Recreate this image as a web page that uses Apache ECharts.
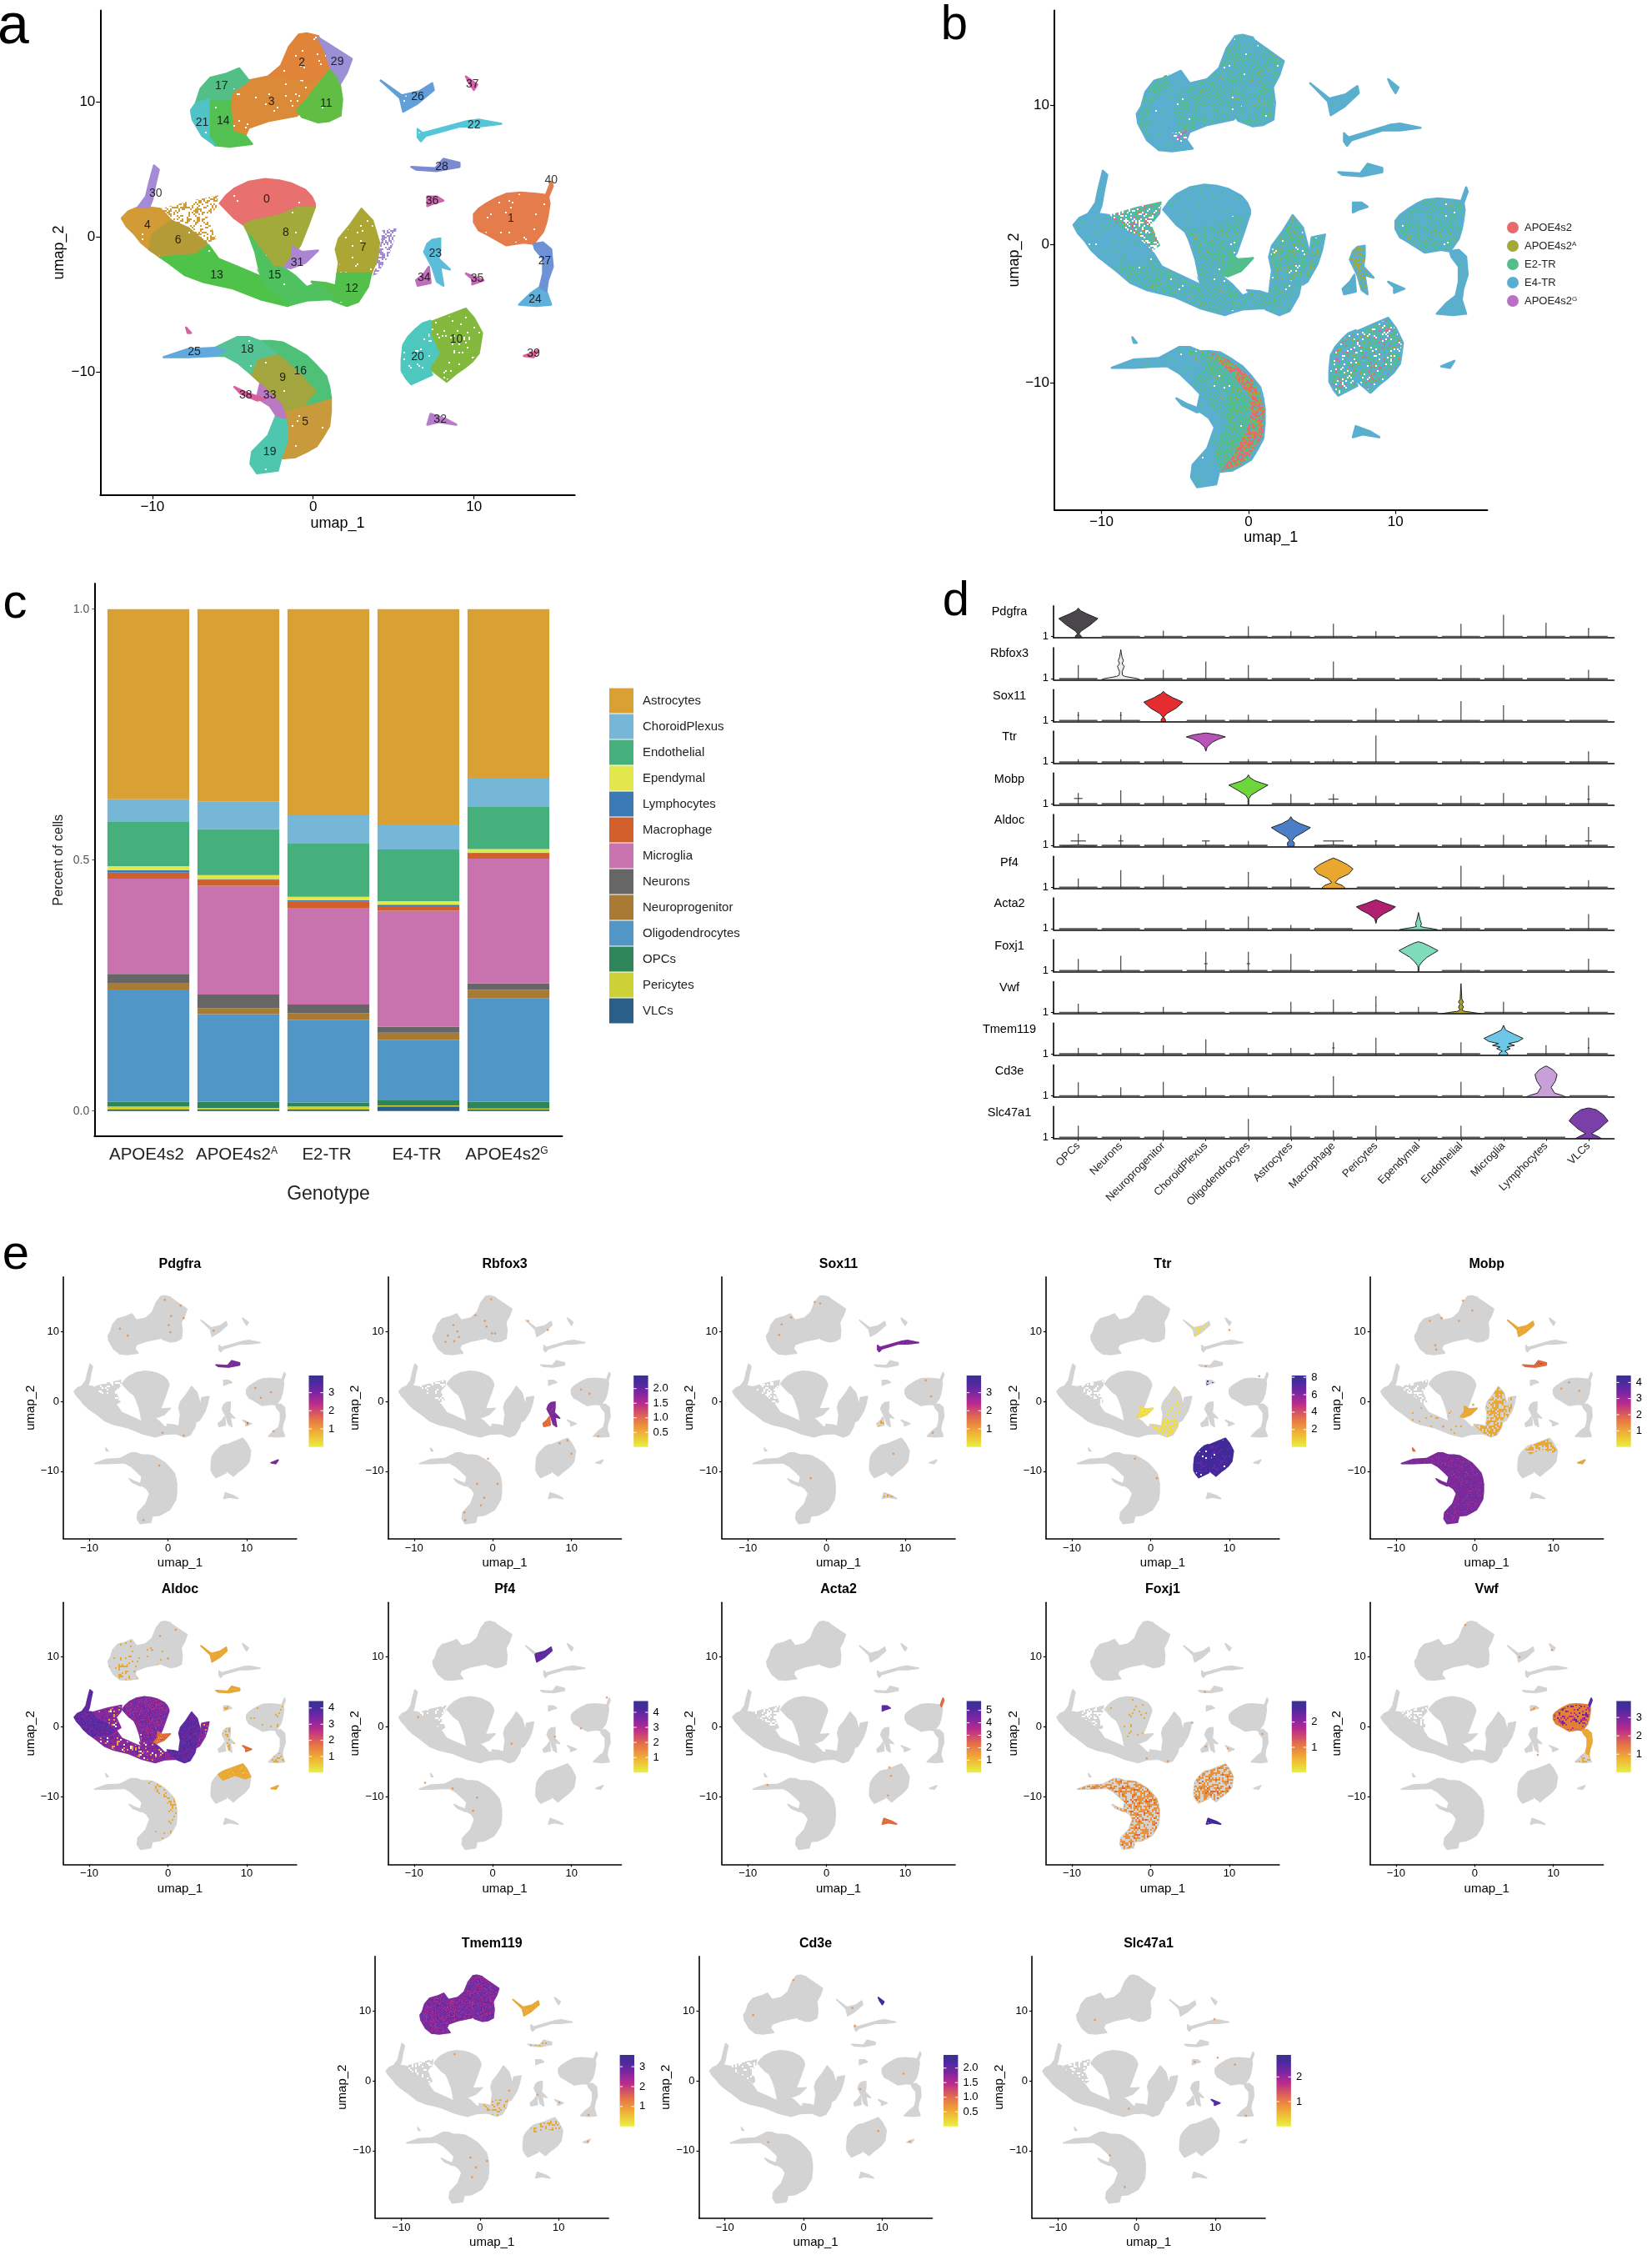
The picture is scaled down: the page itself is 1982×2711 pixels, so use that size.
<!DOCTYPE html>
<html><head><meta charset="utf-8">
<script src="https://cdn.jsdelivr.net/npm/echarts@6/dist/echarts.min.js"></script>
<style>html,body{margin:0;background:#fff}#chart{width:1982px;height:2711px}</style>
</head><body><div id="chart"></div>
<script>
/* ---------- UMAP cluster outlines, in umap_1 / umap_2 units ---------- */
const c0=[[-3,4.3],[-2.1,4.2],[-1.4,4],[-.5,3.5],[-.1,3],[.1,2.5],[.1,2.2],[-.9,2.2],[-2.1,1.6],[-3.8,1.2],[-4.3,.9],[-4.9,1.4],[-5.8,2.5],[-5.4,3.1],[-4.9,3.6],[-4,4.1]];
const c1=[[10,1.7],[10.3,2.1],[10.8,2.5],[11.4,2.9],[12,3.2],[12.9,3.3],[13.9,3.2],[14.6,3.1],[14.7,2.5],[14.6,1.7],[14.5,1.1],[14.3,.4],[13.7,-.5],[13.1,-.4],[12,-.6],[11.4,-.2],[10.8,.2],[10.3,.5],[10,1.1]];
const c2=[[-.4,15.1],[.3,14.9],[.8,13.7],[1.1,12.5],[.6,11.7],[-.4,11.4],[-1.9,11.3],[-2.8,11.9],[-2,12.7],[-1.5,14.1],[-.9,15]];
const c3=[[-2.8,11.9],[-.4,11.4],[.6,11.7],[-.7,9.4],[-1,9],[-2.8,8.6],[-4,8.1],[-4.2,7.6],[-5,7.8],[-5.2,9.4],[-5,10.8],[-4,11.6]];
const c4=[[-11.9,1.4],[-11.5,1.9],[-10.9,2.2],[-10.2,2.2],[-9.5,2.1],[-8.8,1.2],[-10,.2],[-10.2,-.9],[-9.5,-1.4],[-10.1,-1],[-10.7,-.4],[-11.1,.2],[-11.6,.8]];
const c4s=[[-9.5,2.1],[-7.6,2.7],[-5.9,3.1],[-6,2.2],[-6.6,1.4],[-6,-.1],[-6.6,-.5],[-7.8,.7],[-8.8,1.2]];
const c5=[[1.1,-11.9],[1.1,-12.9],[1,-14],[.6,-14.8],[.2,-15.5],[-.4,-15.9],[-1.1,-16.3],[-2,-16.4],[-1.6,-15],[-1.7,-13.4],[-1.9,-12.9],[-.4,-12.4]];
const c6=[[-10,.2],[-8.8,1.2],[-7.8,.7],[-6.6,-.5],[-7.3,-1.3],[-8.3,-1.4],[-9.5,-1.5],[-10.2,-.9]];
const c7=[[3,2.1],[3.7,1.2],[4.1,-.4],[4,-1.6],[3.6,-2.7],[2.4,-2.7],[1.5,-2.7],[1.6,-1.9],[1.4,-.9],[1.6,-.1],[2.3,.9]];
const c7b=[[4.3,.5],[5.2,.7],[5,-.4],[4.7,-1.4],[4,-2.7],[3.7,-2.9],[4,-1.6],[4.2,-.4]];
const c8=[[-.9,2.2],[.1,2.2],[-.3,.9],[-.8,-.6],[-1.3,-1.5],[-1.8,-2.3],[-2.5,-2.2],[-3.3,-.9],[-4,.2],[-4.3,.9],[-3.8,1.2],[-2.1,1.6]];
const c9=[[-2.3,-8.6],[-1.9,-8.8],[-.7,-10.1],[.3,-11.4],[-.4,-12.4],[-1.9,-12.9],[-2.3,-12.1],[-3,-11.1],[-3.9,-10.1],[-3.5,-9]];
const c10=[[9.5,-5.3],[10,-6],[10.5,-7.1],[10.4,-7.9],[10.3,-8.6],[9.9,-9.2],[9.5,-9.6],[8.9,-10.1],[8.3,-10.7],[7.2,-9.7],[7.8,-8.6],[7.3,-7.3],[7.3,-6.3]];
const c10top=[[9.5,-5.3],[10,-6],[10.5,-7.1],[9.8,-7.4],[8.5,-6.9],[7,-7.6],[6.4,-6.8],[7.3,-6.2]];
const c11=[[1.1,12.5],[1.6,11.8],[1.8,10.2],[1.7,9],[1,8.6],[.3,8.5],[-.7,8.9],[-1,9.4],[-.4,10.2],[.4,11.4]];
const c12=[[1.5,-2.7],[3.6,-2.7],[3.4,-3.7],[2.8,-4.8],[2.1,-5.1],[1.2,-4.7],[.4,-3.9],[-.1,-3.3],[.8,-3.4],[1.4,-3.6]];
const c13=[[-6.5,-.6],[-5.9,-1.6],[-4.7,-2.2],[-3.3,-2.9],[-2.8,-3.7],[-1.4,-5],[-.9,-4.8],[-1.6,-5.1],[-3.3,-4.6],[-5,-3.8],[-6.9,-3.3],[-8,-2.8],[-9,-1.9],[-9.5,-1.5],[-8.3,-1.4],[-7.3,-1.3]];
const c14=[[-6.5,10.2],[-5.2,10.2],[-5,7.8],[-4.2,7.5],[-3.8,6.9],[-5.2,6.7],[-6.1,6.8],[-6.5,7.4]];
const c15=[[-4,.2],[-3.3,-.9],[-2.5,-2.2],[-1.8,-2.3],[-1.1,-2.9],[-.4,-3.7],[.3,-3.4],[.8,-4],[1.5,-4.7],[1,-4.6],[-.4,-4.7],[-1.4,-5],[-2.8,-3.7],[-3.3,-2.7],[-3.6,-1.1]];
const c15gap=[[-3.6,-2.2],[-3.2,-2.8],[-2,-3],[-.9,-4.6],[-1.4,-4.9],[-2.9,-3.7]];
const c16=[[-3.3,-7.7],[-2.6,-7.7],[-1.9,-7.8],[-1.1,-8.3],[-.4,-8.8],[.2,-9.5],[.8,-10.3],[1,-11.1],[1.1,-11.9],[-.4,-12.4],[.3,-11.4],[-.7,-10.1],[-1.9,-8.8],[-2.3,-8.6]];
const c17=[[-4.6,12.5],[-4,11.6],[-5,10.8],[-5.2,10.2],[-6.5,10.2],[-7.3,9.9],[-7,11],[-6.4,11.8],[-5.4,12.1]];
const c18=[[-6.1,-8.2],[-5.4,-7.8],[-4.7,-7.4],[-4,-7.4],[-3.3,-7.7],[-2.3,-8.6],[-3.5,-9],[-3.9,-10.1],[-4.7,-9.3],[-5.5,-8.8],[-6.1,-8.8]];
const c19=[[-2.3,-13.2],[-1.7,-13.4],[-1.6,-15],[-2,-16.4],[-2.2,-17.3],[-3.5,-17.5],[-3.9,-16.8],[-3.8,-15.9],[-2.8,-14.7]];
const c20=[[7.3,-6.2],[7.3,-7.3],[7.8,-8.6],[7.2,-9.7],[7.4,-10.2],[6.1,-10.9],[5.8,-10.5],[5.5,-9.9],[5.5,-9.1],[5.6,-8],[5.9,-7.4],[6.4,-6.8],[6.8,-6.4]];
const c21=[[-7.3,9.9],[-6.5,10.2],[-6.5,7.4],[-6.1,6.8],[-6.9,7.5],[-7.5,8.7],[-7.6,9.4]];
const c22=[[6.5,8],[6.8,7.7],[9.6,8.6],[10.3,8.7],[11.7,8.4],[10.3,8.2],[9.1,8.2],[7,7.5],[6.7,7.1],[6.5,7.4]];
const c23=[[7.4,-.2],[7.9,-.1],[7.9,-.9],[7.8,-1.6],[8.5,-2.4],[7.9,-2.2],[8.1,-3.6],[7.7,-3.3],[7.4,-2.2],[6.9,-1.1],[7.1,-.5]];
const c24=[[14.1,-3.7],[14.5,-4],[14.8,-5],[13.9,-5.1],[12.8,-5],[13.5,-4.2]];
const c25=[[-9.3,-8.9],[-7.8,-8.3],[-6.1,-8.2],[-5.5,-8.4],[-6.1,-8.8],[-7.8,-8.9]];
const c26=[[4.2,11.6],[5.5,10.5],[6.6,10.8],[7.4,11.4],[7.5,10.9],[6.5,9.9],[5.6,9.3],[5.4,10.3]];
const c26right=[[5.5,10.5],[6.6,10.8],[7.4,11.4],[7.5,10.9],[6.5,9.9],[5.6,9.3],[5.4,10.3]];
const c27=[[13.7,-.5],[14.3,-.4],[14.8,-.9],[14.9,-2.2],[14.6,-3.2],[14.5,-4],[14.1,-3.7],[14.3,-2.7],[14.3,-1.6],[13.8,-.9]];
const c28=[[6.1,5.2],[7.6,5.1],[8.1,5.8],[9.1,5.5],[9.1,5.2],[7.7,4.9],[6.4,5]];
const c29=[[.3,14.8],[2.4,13.2],[2.1,12.2],[1.7,11.4],[1.6,11.8],[1.1,12.5],[.8,13.7]];
const c30=[[-9.9,5.3],[-9.6,5],[-9.8,4],[-10,2.8],[-10.2,2.2],[-10.9,2.2],[-10.4,3],[-10.2,4]];
const c31=[[-1.3,-.7],[-.7,-1.1],[.3,-1],[-.5,-1.9],[-1.4,-2.3],[-1.8,-2.2],[-1.3,-1.5]];
const c32=[[7.3,-13.1],[8.3,-13.5],[8.9,-13.9],[7.8,-13.7],[7.1,-13.9]];
const c33=[[-3.3,-10.9],[-2,-12.4],[-1.7,-13.4],[-2.3,-13.2],[-2.7,-12.5],[-3.5,-11.9]];
const c34=[[7.2,-2.2],[7.3,-3.4],[6.5,-3.6],[6.4,-3.2],[6.9,-2.7]];
const c35=[[9.5,-2.7],[10.6,-3.2],[9.9,-3.5],[9.9,-3.1],[9.7,-2.9]];
const c36=[[7.1,3],[7.7,3],[8.1,2.7],[7.5,2.5],[7.1,2.3]];
const c37=[[9.5,11.9],[10.2,11.3],[10,10.9],[9.7,11.4]];
const c38=[[-4.9,-11.1],[-4.2,-11.5],[-3,-12],[-3.5,-12.1],[-4.5,-11.6]];
const c39=[[13.1,-8.8],[14,-8.4],[13.7,-8.9]];
const c40=[[14.5,3.2],[14.8,4.1],[14.9,3.8],[14.6,2.9]];
const cSpeck=[[-7.9,-6.7],[-7.6,-7.1],[-7.8,-7.1]];
const shapes={c0,c1,c2,c3,c4,c4s,c5,c6,c7,c7b,c8,c9,c10,c10top,c11,c12,c13,c14,c15,c15gap,c16,c17,c18,c19,c20,c21,c22,c23,c24,c25,c26,c26right,c27,c28,c29,c30,c31,c32,c33,c34,c35,c36,c37,c38,c39,c40,cSpeck};

/* panel a: cluster number label positions, index = cluster id */
const clusterLabelPositions=[[-2.9,2.8],[12.3,1.4],[-.7,12.9],[-2.6,10],[-10.3,.9],[-.5,-13.7],[-8.4,-.2],[3.1,-.8],[-1.7,.3],[-1.9,-10.4],[8.9,-7.6],[.8,9.9],[2.4,-3.8],[-6,-2.8],[-5.6,8.6],[-2.4,-2.8],[-.8,-9.9],[-5.7,11.2],[-4.1,-8.3],[-2.7,-15.9],[6.5,-8.9],[-6.9,8.5],[10,8.3],[7.6,-1.2],[13.8,-4.6],[-7.4,-8.5],[6.5,10.4],[14.4,-1.8],[8,5.2],[1.5,13],[-9.8,3.2],[-1,-1.9],[7.9,-13.5],[-2.7,-11.7],[6.9,-3],[10.2,-3.1],[7.4,2.7],[9.9,11.3],[-4.2,-11.7],[13.7,-8.6],[14.8,4.2]];

/* panel b: genotype-enriched regions */
const genotypeNames=['APOE4s2','APOE4s2^A','E2-TR','E4-TR','APOE4s2^G'];
const redArc=[[-2.7,-7.7],[-1.4,-8.3],[.2,-9.6],[1.1,-11.8],[1,-13.8],[-.3,-15.8],[-1.9,-16.4],[-.9,-15],[.1,-12.8],[.1,-11],[-.9,-9.6],[-2.2,-8.3]];
const greenArc=[[-4.5,-7.5],[-2.7,-7.7],[-2.2,-8.3],[-.9,-9.6],[.1,-11],[.1,-12.8],[-.9,-15],[-1.9,-16.4],[-2.4,-15.3],[-1.6,-12.8],[-1.4,-11],[-2.7,-9.1]];
const greenTopLeft=[[-7.3,10],[-6.5,11.8],[-5.4,12.3],[-5.5,11.5],[-6.6,10],[-7,8],[-6.5,7.2],[-7.4,8.5]];
const purpleNotch=[[-5.3,8],[-4,8.2],[-4.2,7.6],[-5,7.4]];

/* panel c */
const genotypes=['APOE4s2','APOE4s2^A','E2-TR','E4-TR','APOE4s2^G'];
const cellTypesStack=['Astrocytes','ChoroidPlexus','Endothelial','Ependymal','Lymphocytes','Macrophage','Microglia','Neurons','Neuroprogenitor','Oligodendrocytes','OPCs','Pericytes','VLCs'];
const astrocytes=[.379,.383,.411,.429,.336];
const choroidPlexus=[.045,.055,.055,.050,.057];
const endothelial=[.088,.092,.107,.103,.085];
const ependymal=[.008,.008,.007,.007,.007];
const lymphocytes=[.005,.002,.003,.003,.002];
const macrophage=[.012,.011,.012,.009,.010];
const microglia=[.190,.217,.193,.231,.249];
const neurons=[.019,.027,.017,.012,.013];
const neuroprogenitor=[.012,.012,.013,.014,.017];
const oligodendrocytes=[.224,.175,.165,.121,.206];
const opcs=[.009,.012,.008,.010,.013];
const pericytes=[.006,.003,.006,.002,.002];
const vlcs=[.003,.003,.003,.009,.003];
const stackValues=[astrocytes,choroidPlexus,endothelial,ependymal,lymphocytes,macrophage,microglia,neurons,neuroprogenitor,oligodendrocytes,opcs,pericytes,vlcs];
const stackColors=['#d9a033','#76b7d8','#45b07c','#e2e84c','#3c7ab5','#d25f2b','#c873ae','#666666','#a97a33','#5097c8','#2e8559','#cdd136','#2a5f8a'];

/* panel d: violins. profile = [expression, half width in category units] */
const violinCategories=['OPCs','Neurons','Neuroprogenitor','ChoroidPlexus','Oligodendrocytes','Astrocytes','Macrophage','Pericytes','Ependymal','Endothelial','Microglia','Lymphocytes','VLCs'];
const violinGenes=['Pdgfra','Rbfox3','Sox11','Ttr','Mobp','Aldoc','Pf4','Acta2','Foxj1','Vwf','Tmem119','Cd3e','Slc47a1'];
const spikePdgfra=[0,0,.22,0,.36,.21,.44,.21,0,.44,.72,.47,.3];
const spikeRbfox3=[.46,0,.31,.57,.46,0,.57,0,0,.46,.46,0,.31];
const spikeSox11=[.3,.3,0,.22,.22,0,0,.42,.22,.64,.51,0,0];
const spikeTtr=[.12,.12,.12,0,.12,.12,.12,.86,0,.12,.12,0,.37];
const spikeMobp=[.37,.46,.29,.37,0,.34,.34,.29,0,.29,.37,.29,.61];
const spikeAldoc=[.4,.36,.27,.17,.17,0,.17,.17,0,.27,.36,.36,.61];
const spikePf4=[.31,.57,.42,0,.51,.31,0,0,0,.71,.42,0,.26];
const spikeActa2=[0,0,0,.31,.42,.15,0,0,0,.41,0,0,.49];
const spikeFoxj1=[.4,.5,0,.62,.62,.56,0,.27,0,.27,0,0,.41];
const spikeVwf=[.31,0,.21,0,0,.37,.44,.54,.21,0,.37,0,.21];
const spikeTmem119=[.22,.22,.31,.49,.22,.22,.4,.54,0,.4,0,.31,.54];
const spikeCd3e=[.46,.3,.47,.3,.3,0,.65,0,0,.47,.3,0,0];
const spikeSlc47a1=[.4,0,.26,0,.61,.4,.26,.4,0,.4,0,0,0];
const violinSpikes=[spikePdgfra,spikeRbfox3,spikeSox11,spikeTtr,spikeMobp,spikeAldoc,spikePf4,spikeActa2,spikeFoxj1,spikeVwf,spikeTmem119,spikeCd3e,spikeSlc47a1];
const profPdgfra=[[0,.07],[.05,.07],[.12,.02],[.2,.06],[.4,.28],[.6,.46],[.75,.2],[.85,.05],[.93,0]];
const profRbfox3=[[0,.45],[.03,.4],[.06,.28],[.1,.1],[.14,.04],[.25,.03],[.35,.06],[.42,.08],[.5,.03],[.6,.06],[.7,.03],[.85,.01],[.94,0]];
const profSox11=[[0,.05],[.06,.05],[.14,.01],[.25,.08],[.42,.3],[.61,.46],[.75,.22],[.87,.06],[.95,0]];
const profTtr=[[.37,0],[.5,.03],[.65,.15],[.75,.3],[.82,.46],[.88,.3],[.94,.02]];
const profMobp=[[0,.01],[.19,.01],[.3,.06],[.45,.24],[.62,.46],[.75,.16],[.85,.04],[.94,0]];
const profAldoc=[[0,.07],[.05,.08],[.12,.08],[.18,.03],[.3,.1],[.45,.3],[.59,.46],[.72,.2],[.84,.04],[.93,0]];
const profPf4=[[0,.28],[.08,.22],[.18,.04],[.3,.12],[.45,.36],[.61,.46],[.75,.32],[.87,.14],[.95,0]];
const profActa2=[[.2,0],[.35,.03],[.5,.18],[.62,.36],[.72,.46],[.83,.22],[.94,0]];
const profEpendymalActa2=[[0,.45],[.03,.35],[.07,.15],[.1,.05],[.2,.07],[.3,.04],[.54,0]];
const profFoxj1=[[0,.01],[.12,.01],[.19,.02],[.3,.08],[.45,.2],[.66,.46],[.8,.26],[.9,.1],[.94,0]];
const profVwf=[[0,.45],[.03,.3],[.07,.08],[.12,.02],[.2,.06],[.3,.02],[.35,.06],[.45,.02],[.94,0]];
const profTmem119=[[0,.1],[.05,.1],[.12,.03],[.2,.16],[.25,.08],[.3,.26],[.36,.12],[.42,.34],[.52,.46],[.65,.25],[.78,.05],[.93,0]];
const profCd3e=[[0,.46],[.04,.4],[.12,.2],[.3,.12],[.5,.22],[.7,.26],[.85,.16],[.96,.02]];
const profSlc47a1=[[0,.3],[.06,.22],[.15,.07],[.3,.25],[.55,.46],[.75,.34],[.9,.18],[.95,.02]];
const violinMarks=[[0,0,'#4a474c',profPdgfra],[1,1,'#ececec',profRbfox3],[2,2,'#e62c2f',profSox11],[3,3,'#b854b8',profTtr],[4,4,'#6ed63a',profMobp],[5,5,'#4a7ec8',profAldoc],[6,6,'#e8a830',profPf4],[7,7,'#b0206e',profActa2],[7,8,'#7fdcbb',profEpendymalActa2],[8,8,'#7fdcbb',profFoxj1],[9,9,'#a8a030',profVwf],[10,10,'#6cc8e6',profTmem119],[11,11,'#c8a0d8',profCd3e],[12,12,'#7a3fa8',profSlc47a1]];
/* small cross-bars on the spikes: [gene row, category, expression, half width] */
const violinCrossbars=[[2,0,.2,.02],[2,1,.2,.02],[4,0,.2,.1],[4,3,.18,.03],[4,6,.18,.12],[4,12,.18,.03],[5,0,.17,.18],[5,1,.17,.06],[5,3,.17,.09],[5,6,.17,.24],[5,7,.17,.03],[5,12,.17,.08],[5,11,.17,.02],[8,3,.25,.04],[8,4,.25,.04],[9,7,.25,.01],[10,6,.22,.03],[10,12,.22,.02],[0,12,.28,.01]];
const violinBaseWide=[[5,0,.4],[5,6,.45]];

/* panel e: feature plots */
const cbTicks={Pdgfra:[1,2,3],Rbfox3:[.5,1,1.5,2],Sox11:[1,2,3],Ttr:[2,4,6,8],Mobp:[1,2,3,4],Aldoc:[1,2,3,4],Pf4:[1,2,3,4],Acta2:[1,2,3,4,5],Foxj1:[1,2],Vwf:[1,2,3],Tmem119:[1,2,3],Cd3e:[.5,1,1.5,2],Slc47a1:[1,2]};
const cbMax={Pdgfra:3.95,Rbfox3:2.45,Sox11:3.95,Ttr:8.2,Mobp:4.43,Aldoc:4.43,Pf4:4.74,Acta2:5.74,Foxj1:2.83,Vwf:3.89,Tmem119:3.59,Cd3e:2.45,Slc47a1:2.89};
const crescent=['c5','c9','c16','c18','c19','c25','c33','c38'];
const overlays={
 Pdgfra:[['c28','purple'],['c39','purple'],['c35','orangeMix'],['c36','orangeSS']],
 Rbfox3:[['c23','purple'],['c34','orangeRed'],['c28','orangeSS']],
 Sox11:[['c22','purple'],['c34','orangeS'],['c32','orangeS']],
 Ttr:[['c10','deep'],['c20','deep'],['c12','yellowM'],['c7','yellowSS'],['c31','yellow'],['c26','yellowS'],['c36','purpleS']],
 Mobp:[...crescent.map(k=>[k,'purple']),['c7','orangeM'],['c12','orangeM'],['c7b','orangeS'],['c26','orange'],['c10top','orangeM'],['c28','orangeRed'],['c15','orangeSS'],['c13','orangeSS'],['c31','orange'],['c39','orange'],['cSpeck','orangeRed']],
 Aldoc:[['c0','plum'],['c8','plum'],['c4','violet'],['c6','violet'],['c13','plumMix'],['c15','plumMix'],['c15gap','plumMix'],['c4s','plumMix'],['c7','violet'],['c12','violet'],['c30','violet'],['c31','orangeRed'],['c7b','plumMix'],['c26','orange'],['c10top','orange'],['c28','orange'],['c24','orangeS'],['c36','orangeS'],['c14','orangeS'],['c17','orangeSS'],['c21','orangeSS'],['c3','orangeSS'],['c16','orangeS'],['c5','orangeSS'],['c23','orangeS'],['c39','orange'],['c35','orangeRed'],['c1','orangeSS']],
 Pf4:[['c26right','violet']],
 Acta2:[['c36','violet'],['c32','orangeRed'],['c40','orangeRed']],
 Foxj1:[...crescent.map(k=>[k,'orangeGrey']),['c10','orangeGrey'],['c20','orangeGrey'],['c32','deep'],['c0','orangeSS'],['c8','orangeSS']],
 Vwf:[['c1','orangeMagenta'],['c27','orange'],['c24','orangeS'],['c40','violet'],['c36','orangeS']],
 Tmem119:[['c2','plum'],['c3','plum'],['c11','plum'],['c14','plum'],['c17','plum'],['c21','plum'],['c29','plum'],['c26','orange'],['c12','orangeS'],['c10top','orangeS'],['c28','orangeS']],
 Cd3e:[['c37','deep']],
 Slc47a1:[['c35','violet']]
};
/* isolated positive cells */
const dotsPdgfra=[[-6.1,10.4],[-5.1,9.4],[-.4,14.5],[1.6,13.7],[.4,12.2],[.3,9.9],[.1,10.9],[2,11.9],[5.8,10.1],[11.1,1.9],[13.1,1.3],[11.8,.5],[13.4,-4.3],[2,-4.9],[-.7,-4.5],[-1.1,-9.2],[-3.1,-17]];
const dotsRbfox3=[[-5,10.9],[-4.5,10],[-5.7,9.4],[-4.9,8.6],[-6,8.5],[-4.3,9.2],[-1,11.5],[-.8,10.7],[-.1,9.7],[.3,9.7],[-2.2,12.3],[-.2,14.6],[11.2,1.7],[12.3,1.1],[-.6,-8.2],[-2,-11.8],[-1.5,-14.9],[-1.1,-13.8],[.6,-11.8],[-3.5,-17],[-3.6,-15.9],[8.5,-6],[9.5,-5.6],[10,-7.5],[7,10.2],[4.5,11.5],[13.4,-5]];
const dotsSox11=[[-4.5,12],[-5.7,11],[-6,9.5],[-1.5,14.2],[-.8,14],[12.6,3],[13.3,.7],[13.5,-4.5],[8.5,-7.5],[-2,-11]];
const dotsTtr=[[10,10.2],[7,5],[13.8,3.6],[-2,-8.2],[.8,-11]];
const dotsMobp=[[-4.2,11.9],[-5.7,11.5],[-1.5,14.4],[-.3,13],[-2,11.5],[-5,8],[-4.9,7.4],[12,2.7],[11,1.8],[13.3,1.5],[-.2,-.5],[-4,-3.6]];
const dotsAldoc=[[1,13.9],[-1,13],[-2,11],[0,9.8]];
const dotsPf4=[[-8.6,-8],[-5.1,-8.8],[-2.5,-12],[-2,-10.1],[-9.5,1.4],[14.5,4.2],[11.2,-.2],[2.4,-2.4],[7.9,-1.4]];
const dotsActa2=[[-7.5,-8.3],[8.2,-7],[8,-5.8],[7.8,-9.8]];
const dotsFoxj1=[[14.2,-1],[7,-2.8],[9.8,-3.1],[5.3,.6],[6.9,5],[-.5,-4.5],[2.2,-4.9]];
const dotsVwf=[[-1.2,14.6],[5.7,10],[9.8,11],[8,-4],[7.5,2.6]];
const dotsTmem119=[[-3.2,3.8],[.9,-11.5],[-1.2,-11],[-1,-13.8],[-.5,-12.4],[3.7,-1.4],[7.3,-2],[10.1,-3.1],[13.8,-4.9],[13.7,-8.7]];
const dotsCd3e=[[-1.3,14.4],[-6.4,9.4],[6.2,10.4],[6.5,7.8],[12.7,1],[7.2,-1.2],[9.5,-7.2],[13.5,-8.7],[-4.5,-8.8]];
const dotsSlc47a1=[[-5.3,8.7],[9.9,8.8],[-3.4,-10.7],[-1.5,-15.2],[10.3,3.3],[12.5,2.3],[13.9,-5],[-1,-4],[7.4,2.7]];
const geneDots={Pdgfra:dotsPdgfra,Rbfox3:dotsRbfox3,Sox11:dotsSox11,Ttr:dotsTtr,Mobp:dotsMobp,Aldoc:dotsAldoc,Pf4:dotsPf4,Acta2:dotsActa2,Foxj1:dotsFoxj1,Vwf:dotsVwf,Tmem119:dotsTmem119,Cd3e:dotsCd3e,Slc47a1:dotsSlc47a1};

/* ---------- styling and layout ---------- */
const FONT='"Liberation Sans","Helvetica",sans-serif';
const clusterColors=['#e8706e','#e57c4c','#df8438','#db8a38','#d29b36','#c89a3b','#b59b38','#aca734','#a1aa3a','#a3a63e','#82b83c','#62bd45','#52c04a','#4fc24a','#52c152','#4fc25f','#4fc078','#52c086','#54c495','#4fc6ae','#4ec8bf','#4fc3c6','#55c5d8','#5bbdd9','#5fb0da','#61a9dd','#629fd9','#6d93d6','#7a8bd2','#9b8fd6','#a58bd6','#ad84d2','#b77dcb','#bb78c3','#bf6fba','#c568b2','#cc68b0','#d363a8','#d8619e','#dc6396','#e57c4c'];

/* Speckled fill textures (a deterministic tile, visual only; carries no data) */
const texCache={};
function tex(bg,dots,dot){
  const key=JSON.stringify([bg,dots,dot]); if(texCache[key])return texCache[key];
  const S=128,d=dot||2,cv=document.createElement('canvas');cv.width=cv.height=S;
  const g=cv.getContext('2d'); if(bg){g.fillStyle=bg;g.fillRect(0,0,S,S);}
  let s=key.length*7919+12345;
  for(let y=0;y<S;y+=d)for(let x=0;x<S;x+=d){
    s=(Math.imul(s,1664525)+1013904223)>>>0; let r=((s>>>8)&65535)/65536,acc=0;
    for(const [col,p] of dots){acc+=p; if(r<acc){g.fillStyle=col;g.fillRect(x,y,d,d);break;}}
  }
  return texCache[key]={image:cv,repeat:'repeat'};
}
const fills={
 plum:tex('#7f2a9e',[['#b0308f',.25],['#5a2ba0',.2]],1),
 purple:tex('#7b2a9c',[['#a93597',.12],['#6a2c9f',.15]],1),
 violet:tex('#5c2aa2',[['#7b2a9c',.3],['#45299c',.2]],1),
 plumMix:tex('#8a2a9a',[['#f0a040',.1],['#5c2aa2',.2],['#ffffff',.04]],2),
 deep:tex('#41299a',[['#ffffff',.035],['#5c2aa2',.2]],2),
 orange:tex('#e9a735',[['#f0c040',.1]],1),
 orangeM:tex(null,[['#e9a735',.6]],2),
 orangeS:tex(null,[['#e9a735',.28]],2),
 orangeSS:tex(null,[['#e9a735',.04]],2),
 orangeMix:tex(null,[['#e9a735',.4],['#d9653f',.1]],2),
 orangeGrey:tex(null,[['#e8923c',.5],['#d9653f',.07]],2),
 orangeRed:tex('#e0683a',[['#b92c8e',.15],['#e9a735',.2]],1),
 orangeMagenta:tex('#e2803a',[['#b92c8e',.2],['#5c2aa2',.08]],2),
 yellow:tex('#efdc4a',[['#f4e878',.2]],1),
 yellowM:tex(null,[['#efdc4a',.6]],2),
 yellowS:tex(null,[['#efdc4a',.35]],2),
 yellowSS:tex(null,[['#efdc4a',.14]],2),
 purpleS:tex(null,[['#5c2aa2',.2]],2),
 gray:'#d3d3d3',
 graySparse:tex(null,[['#d3d3d3',.75]],2)
};
const solidStroke={plum:'#7f2a9e',purple:'#7b2a9c',violet:'#5c2aa2',plumMix:'#8a2a9a',deep:'#41299a',orange:'#e9a735',orangeRed:'#e0683a',orangeMagenta:'#e2803a',yellow:'#efdc4a'};
const sparseKeys={c4s:1,c15gap:1};
const greyKeys=Object.keys(shapes).filter(k=>k!=='c10top'&&k!=='c26right');

const option={animation:false,backgroundColor:'#fff',grid:[],xAxis:[],yAxis:[],series:[],legend:[],graphic:[]};
function text(str,x,y,font,rot,color){
  option.graphic.push({type:'text',x,y,rotation:rot||0,silent:true,style:{text:str,font:font+' '+FONT,textAlign:'center',textVerticalAlign:'middle',fill:color||'#000'}});
}
function addGrid(g,xa,ya){option.grid.push(Object.assign({containLabel:false},g));option.xAxis.push(Object.assign({gridIndex:option.grid.length-1},xa));option.yAxis.push(Object.assign({gridIndex:option.grid.length-1},ya));return option.grid.length-1;}
function polys(ax,items,extra,sw){
  return Object.assign({type:'custom',coordinateSystem:'cartesian2d',xAxisIndex:ax,yAxisIndex:ax,silent:true,clip:false,
    data:items.map(it=>it.pts[0]),
    renderItem:(p,api)=>{const it=items[p.dataIndex];
      return {type:'polygon',shape:{points:it.pts.map(q=>api.coord(q))},style:{fill:it.fill,stroke:it.stroke||null,lineWidth:it.stroke?(sw||2.6):0,lineJoin:'round'}};}
  },extra||{});
}
function umapAxes(o){
  const lw=o.lw||2,common={type:'value',splitLine:{show:false},axisLine:{show:true,onZero:false,lineStyle:{color:'#000',width:lw}}};
  return addGrid({left:o.left,top:o.top,width:o.width,height:o.height},
   Object.assign({},common,{min:o.xr[0],max:o.xr[1],position:'bottom',name:'umap_1',nameLocation:'middle',nameGap:o.xGap,nameTextStyle:{fontSize:o.nameSize,fontFamily:FONT,color:'#000'},
     axisTick:{show:true,length:o.tick,customValues:[-10,0,10],lineStyle:{color:'#000',width:1.2}},
     axisLabel:{customValues:[-10,0,10],margin:o.margin,fontSize:o.tickSize,fontFamily:FONT,color:'#000',formatter:v=>String(v).replace('-','\u2212')}}),
   Object.assign({},common,{min:o.yr[0],max:o.yr[1],position:'left',name:'umap_2',nameLocation:'middle',nameGap:o.yGap,nameTextStyle:{fontSize:o.nameSize,fontFamily:FONT,color:'#000'},
     axisTick:{show:true,length:o.tick,customValues:[-10,0,10],lineStyle:{color:'#000',width:1.2}},
     axisLabel:{customValues:[-10,0,10],margin:o.margin,fontSize:o.tickSize,fontFamily:FONT,color:'#000',formatter:v=>String(v).replace('-','\u2212')}}));
}

/* ---------- panel a ---------- */
const axA=umapAxes({left:120.3,top:12.4,width:569.3,height:581.3,xr:[-13.24,16.27],yr:[-19.1,16.8],xGap:25,yGap:40,nameSize:18,tickSize:17,margin:6,tick:5});
const aItems=[{pts:c4s,fill:tex(null,[['#d29b36',.4]],2)},{pts:c15gap,fill:tex(null,[['#4fc25f',.3],['#ad84d2',.06]],2)}];
const aWhite={10:.04,20:.04,7:.02,1:.012,3:.015,2:.015};
for(let i=0;i<=40;i++){const col=clusterColors[i];aItems.push({pts:shapes['c'+i],fill:tex(col,[['#ffffff',aWhite[i]||.004]],2),stroke:col});}
aItems.push({pts:c7b,fill:tex(null,[['#a58bd6',.55]],2)},{pts:cSpeck,fill:'#d8619e',stroke:'#d8619e'});
option.series.push(polys(axA,aItems));
option.series.push({type:'scatter',xAxisIndex:axA,yAxisIndex:axA,symbolSize:1,silent:true,itemStyle:{color:'rgba(0,0,0,0)'},z:5,data:clusterLabelPositions,
  label:{show:true,position:'inside',fontSize:14,fontFamily:FONT,color:'#000',formatter:p=>String(p.dataIndex)}});

/* ---------- panel b ---------- */
const axB=umapAxes({left:1265,top:12.4,width:519.4,height:599.1,xr:[-13.2,16.24],yr:[-19.13,16.86],xGap:25,yGap:38,nameSize:18,tickSize:17,margin:6,tick:5});
const bBase=tex('#5aaed0',[['#52bf8a',.07],['#ffffff',.002]],2);
const bGreenish=tex('#5aaed0',[['#52bf8a',.32],['#a3a83b',.015],['#ffffff',.006]],2);
const greenishKeys={c2:1,c3:1,c11:1,c8:1,c13:1,c15:1,c16:1,c9:1,c5:1,c12:1,c29:1,c1:1};
const bOpen=tex(null,[['#52bf8a',.34],['#5aaed0',.28],['#e8696b',.05],['#b96fc4',.05],['#a3a83b',.05]],2);
const bItems=greyKeys.filter(k=>k!=='c4s'&&k!=='c15gap').map(k=>{const open=(k==='c10'||k==='c20');
  return {pts:shapes[k],fill:open?tex('#5aaed0',[['#52bf8a',.35],['#ffffff',.08],['#e8696b',.03],['#b96fc4',.04],['#a3a83b',.04]],2):(k==='c7'||k==='c7b'?tex('#5aaed0',[['#52bf8a',.4],['#a3a83b',.06],['#ffffff',.03]],2):(greenishKeys[k]?bGreenish:bBase)),stroke:'#5aaed0'};});
bItems.unshift({pts:c4s,fill:bOpen},{pts:c15gap,fill:bOpen});
option.series.push(polys(axB,bItems,{name:'E4-TR',itemStyle:{color:'#5aaed0'}}));
option.series.push(polys(axB,[{pts:greenArc,fill:tex(null,[['#52bf8a',.45],['#a3a83b',.05]],2)},{pts:greenTopLeft,fill:tex(null,[['#52bf8a',.5]],2)},{pts:c31,fill:tex('#52bf8a',[['#5aaed0',.05]],2),stroke:'#52bf8a'}],{name:'E2-TR',itemStyle:{color:'#52bf8a'}}));
option.series.push(polys(axB,[{pts:redArc,fill:tex(null,[['#e8696b',.45],['#52bf8a',.2],['#a3a83b',.2]],2)}],{name:'APOE4s2',itemStyle:{color:'#e8696b'}}));
option.series.push(polys(axB,[{pts:c23,fill:tex(null,[['#a3a83b',.35]],2)}],{name:'APOE4s2^A',itemStyle:{color:'#a3a83b'}}));
option.series.push(polys(axB,[{pts:purpleNotch,fill:tex(null,[['#b96fc4',.3],['#ffffff',.2]],2)}],{name:'APOE4s2^G',itemStyle:{color:'#b96fc4'}}));
const supFmt=n=>{const p=n.split('^');return p[1]?`{m|${p[0]}}{s|${p[1]}}`:`{m|${p[0]}}`;};
option.legend.push({left:1808,top:266,padding:0,orient:'vertical',icon:'circle',itemWidth:14,itemHeight:14,itemGap:8,selectedMode:false,data:genotypeNames,
  formatter:supFmt,textStyle:{rich:{m:{fontSize:13,fontFamily:FONT,color:'#222',padding:[0,0,0,2]},s:{fontSize:8,fontFamily:FONT,color:'#222',verticalAlign:'top'}}}});

/* ---------- panel c ---------- */
const axCf=addGrid({left:113.3,top:700,width:561.2,height:662.6},
 {type:'value',min:0,max:1,axisLine:{show:true,onZero:false,lineStyle:{color:'#000',width:2}},axisTick:{show:false},axisLabel:{show:false},splitLine:{show:false}},
 {type:'value',min:0,max:1,axisLine:{show:true,onZero:false,lineStyle:{color:'#000',width:2}},axisTick:{show:false},axisLabel:{show:false},splitLine:{show:false}});
const axC=addGrid({left:124,top:730.7,width:540,height:602},
 {type:'category',data:genotypes,axisLine:{show:false},axisTick:{show:false},name:'Genotype',nameLocation:'middle',nameGap:88,nameTextStyle:{fontSize:23,fontFamily:FONT,color:'#222'},
  axisLabel:{margin:42,formatter:v=>supFmt(v),interval:0,padding:[0,4,0,0],rich:{m:{fontSize:20.5,fontFamily:FONT,color:'#222'},s:{fontSize:12,fontFamily:FONT,color:'#222',verticalAlign:'top'}}}},
 {type:'value',min:0,max:1,interval:.5,offset:10.7,axisLine:{show:false},axisTick:{show:true,length:3,lineStyle:{color:'#555'}},splitLine:{show:false},name:'Percent of cells',nameLocation:'middle',nameGap:35,nameTextStyle:{fontSize:16,fontFamily:FONT,color:'#222'},
  axisLabel:{margin:6,fontSize:14,fontFamily:FONT,color:'#555',formatter:v=>v.toFixed(1)}});
for(let i=cellTypesStack.length-1;i>=0;i--){
  option.series.push({type:'bar',name:cellTypesStack[i],stack:'cells',barWidth:'91%',xAxisIndex:axC,yAxisIndex:axC,data:stackValues[i],itemStyle:{color:stackColors[i]},silent:true});
}
option.legend.push({left:731,top:825.5,padding:0,orient:'vertical',icon:'rect',itemWidth:29,itemHeight:30,itemGap:1,selectedMode:false,data:cellTypesStack,
  textStyle:{fontSize:15,fontFamily:FONT,color:'#222',padding:[0,0,0,6]}});

/* ---------- panel d ---------- */
const rowBase=[765,815.3,865.6,915.3,965.5,1015.3,1065.6,1115.3,1165.6,1215.8,1265.5,1315.8,1365.6];
violinGenes.forEach((gene,r)=>{
  const last=r===violinGenes.length-1,line={show:true,onZero:false,lineStyle:{color:'#000',width:1.6}};
  const ax=addGrid({left:1264,top:rowBase[r]-38.3,width:672.5,height:38.3},
   {type:'value',min:-.582,max:12.6,axisLine:line,splitLine:{show:false},
    axisTick:{show:last,length:3,customValues:violinCategories.map((c,i)=>i)},
    axisLabel:{show:last,customValues:violinCategories.map((c,i)=>i),rotate:45,margin:7,fontSize:13,fontFamily:FONT,color:'#222',formatter:v=>violinCategories[v]}},
   {type:'value',min:0,max:1,axisLine:line,splitLine:{show:false},
    axisTick:{show:true,length:3,customValues:[.04]},
    axisLabel:{customValues:[.04],margin:6,fontSize:13,fontFamily:FONT,color:'#000',formatter:()=>'1'}});
  const vm=violinMarks.filter(m=>m[0]===r),xb=violinCrossbars.filter(m=>m[0]===r),wide=violinBaseWide.filter(m=>m[0]===r);
  option.series.push({type:'custom',coordinateSystem:'cartesian2d',xAxisIndex:ax,yAxisIndex:ax,silent:true,clip:false,
    data:violinCategories.map((c,i)=>[i,violinSpikes[r][i]]),
    renderItem:(p,api)=>{
      const i=api.value(0),h=api.value(1),kids=[],viol=vm.filter(m=>m[1]===i);
      const seg=(x1,y1,x2,y2,col,w)=>{const a=api.coord([x1,y1]),b=api.coord([x2,y2]);kids.push({type:'line',shape:{x1:a[0],y1:a[1],x2:b[0],y2:b[1]},style:{stroke:col,lineWidth:w}});};
      if(!viol.length){seg(i-.45,0.025,i+.45,0.025,'#555',2.4);}
      if(h>0)seg(i,0,i,h,'#333',1.1);
      wide.filter(m=>m[1]===i).forEach(m=>{kids.push({type:'polygon',shape:{points:[[i-m[2],0],[i,.05],[i+m[2],0]].map(q=>api.coord(q))},style:{fill:'#777',stroke:'#333',lineWidth:.8}});});
      xb.filter(m=>m[1]===i).forEach(m=>seg(i-m[3],m[2],i+m[3],m[2],'#333',1.1));
      viol.forEach(m=>{const pr=m[3],pts=pr.map(q=>[i+q[1],q[0]]).concat(pr.slice().reverse().map(q=>[i-q[1],q[0]]));
        kids.push({type:'polygon',shape:{points:pts.map(q=>api.coord(q))},style:{fill:m[2],stroke:'#222',lineWidth:1,lineJoin:'round'}});});
      return {type:'group',children:kids};
    }});
  text(gene,1211,rowBase[r]-31,'14.5px');
});

/* ---------- panel e ---------- */
const eLayout=[
 ['Pdgfra',75.9,1531.7,370.5],['Rbfox3',465.6,1531.7,760.2],['Sox11',866,1531.7,1159.7],['Ttr',1254.9,1531.7,1549.8],['Mobp',1643.7,1531.7,1939.3],
 ['Aldoc',75.9,1922.3,370.5],['Pf4',465.6,1922.3,760.2],['Acta2',866,1922.3,1159.7],['Foxj1',1254.9,1922.3,1549.8],['Vwf',1643.7,1922.3,1939.3],
 ['Tmem119',450.2,2346.7,743.6],['Cd3e',838.5,2346.7,1132],['Slc47a1',1238,2346.7,1531.5]];
const plasma=[[0,'#e8f040'],[.2,'#f0b035'],[.4,'#e56f4a'],[.6,'#bb2c8c'],[.76,'#7c25a3'],[.9,'#4a2a9e'],[1,'#3a3091']];
eLayout.forEach(([gene,L,T,cbx])=>{
  const ax=umapAxes({left:L,top:T,width:280,height:314,xr:[-13.3,16.35],yr:[-19.65,17.8],xGap:22,yGap:32,nameSize:15,tickSize:13,margin:5,tick:3,lw:1.6});
  const items=greyKeys.map(k=>({pts:shapes[k],fill:sparseKeys[k]?fills.graySparse:fills.gray,stroke:sparseKeys[k]?null:'#d3d3d3'}));
  option.series.push(polys(ax,items,null,1.8));
  option.series.push(polys(ax,overlays[gene].map(([k,st])=>({pts:shapes[k],fill:fills[st],stroke:solidStroke[st]||null})),null,1.8));
  option.series.push({type:'scatter',xAxisIndex:ax,yAxisIndex:ax,silent:true,symbolSize:2.6,data:geneDots[gene],itemStyle:{color:'#e58a45'}});
  text(gene,L+140,T-15.5,'bold 16px');
  /* colour bar */
  const cbTop=T+118.3, ticks=cbTicks[gene], mx=cbMax[gene], frac=ticks.some(v=>v%1);
  const cbAx=addGrid({left:cbx,top:cbTop,width:17.4,height:85.7},
    {type:'value',min:0,max:1,show:false},
    {type:'value',min:0,max:mx,position:'right',axisLine:{show:false},axisTick:{show:false},splitLine:{show:false},
     axisLabel:{customValues:ticks,margin:6,fontSize:13,fontFamily:FONT,color:'#000',formatter:v=>frac?v.toFixed(1):String(v)}});
  option.series.push({type:'custom',coordinateSystem:'cartesian2d',xAxisIndex:cbAx,yAxisIndex:cbAx,silent:true,clip:false,data:[[0,mx]],
    renderItem:(p,api)=>{const a=api.coord([0,mx]),b=api.coord([1,0]);
      return {type:'rect',shape:{x:a[0],y:a[1],width:b[0]-a[0],height:b[1]-a[1]},style:{fill:new echarts.graphic.LinearGradient(0,1,0,0,plasma.map(s=>({offset:s[0],color:s[1]})))}};}});
  option.series.push({type:'custom',coordinateSystem:'cartesian2d',xAxisIndex:cbAx,yAxisIndex:cbAx,silent:true,clip:false,data:ticks.map(v=>[0,v]),
    renderItem:(p,api)=>{const v=api.value(1),a=api.coord([0,v]),b=api.coord([.2,v]),c=api.coord([.8,v]),d=api.coord([1,v]);
      const st={stroke:'#fff',lineWidth:1};
      return {type:'group',children:[{type:'line',shape:{x1:a[0],y1:a[1],x2:b[0],y2:b[1]},style:st},{type:'line',shape:{x1:c[0],y1:c[1],x2:d[0],y2:d[1]},style:st}]};}});
});

/* panel letters */
text('a',16,33,'68px');text('b',1145,31,'58px');text('c',18,725,'58px');text('d',1147,722,'58px');text('e',19,1506,'58px');

echarts.init(document.getElementById('chart'),null,{renderer:'canvas'}).setOption(option);
</script></body></html>
